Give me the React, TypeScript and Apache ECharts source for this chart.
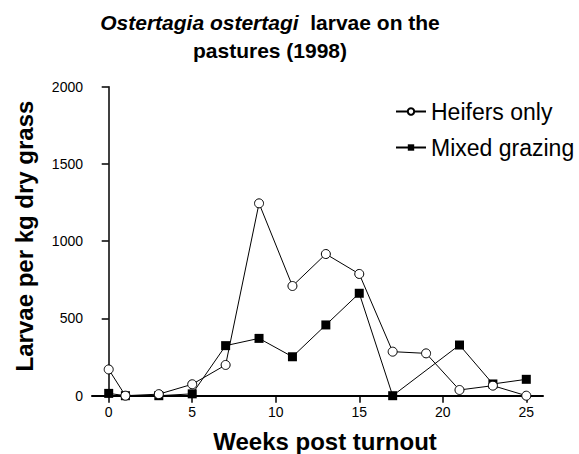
import React, { useEffect, useRef } from "react";
import * as echarts from "echarts";

const FONT = "'Liberation Sans', Arial, Helvetica, sans-serif";

const heiferWeeks = [0, 1, 3, 5, 7, 9, 11, 13, 15, 17, 19, 21, 23, 25];
const heiferValues = [170, 0, 10, 74, 199, 1245, 710, 917, 788, 285, 274, 37, 65, 0];

const mixedWeeks = [0, 1, 3, 5, 7, 9, 11, 13, 15, 17, 21, 23, 25];
const mixedValues = [15, 0, 0, 12, 324, 371, 252, 458, 663, 0, 328, 76, 106];

const xTicks = [0, 5, 10, 15, 20, 25];
const yTicks = [0, 500, 1000, 1500, 2000];

const seriesNames = ["Heifers only", "Mixed grazing"];
const titleItalic = "Ostertagia ostertagi";
const titleRest = "  larvae on the";
const titleLine2 = "pastures (1998)";
const xName = "Weeks post turnout";
const yName = "Larvae per kg dry grass";

export default function App() {
  const ref = useRef<HTMLDivElement>(null);

  useEffect(() => {
    if (!ref.current) return;
    const chart = echarts.init(ref.current, null, { renderer: "svg" });
    const heiferData = heiferWeeks.map((w, i) => [w, heiferValues[i]]);
    const mixedData = mixedWeeks.map((w, i) => [w, mixedValues[i]]);

    chart.setOption({
      animation: false,
      backgroundColor: "#ffffff",
      grid: { left: 92, right: 36, top: 86.7, bottom: 58.3 },
      xAxis: {
        type: "value",
        min: -1,
        max: 26,
        splitLine: { show: false },
        axisLine: { show: true, onZero: false, lineStyle: { color: "#000", width: 2 } },
        axisTick: { show: true, length: 7, customValues: xTicks, lineStyle: { color: "#000", width: 1.5 } },
        axisLabel: {
          customValues: xTicks,
          margin: 9,
          color: "#000",
          fontSize: 14,
          fontFamily: FONT,
          formatter: (v: number) => String(v),
        },
      },
      yAxis: {
        type: "value",
        min: yTicks[0],
        max: yTicks[yTicks.length - 1],
        interval: 500,
        splitLine: { show: false },
        axisLine: { show: true, lineStyle: { color: "#000", width: 1.5 } },
        axisTick: { show: true, length: 7, lineStyle: { color: "#000", width: 1.5 } },
        axisLabel: {
          margin: 9,
          color: "#000",
          fontSize: 14,
          fontFamily: FONT,
          formatter: (v: number) => String(v),
        },
      },
      legend: {
        orient: "vertical",
        left: 395,
        top: 100,
        padding: 0,
        itemWidth: 30,
        itemHeight: 8,
        itemGap: 13,
        itemTextGap: 0.1,
        data: seriesNames,
        textStyle: { color: "#000", fontSize: 23, fontFamily: FONT },
      },
      series: [
        {
          name: seriesNames[1],
          type: "line",
          data: mixedData,
          symbol: "rect",
          symbolSize: 9,
          z: 2,
          clip: false,
          lineStyle: { color: "#000", width: 1 },
          itemStyle: { color: "#000", borderColor: "#000", borderWidth: 0 },
        },
        {
          name: seriesNames[0],
          type: "line",
          data: heiferData,
          symbol: "circle",
          symbolSize: 9,
          z: 3,
          clip: false,
          lineStyle: { color: "#000", width: 1 },
          itemStyle: { color: "#fff", borderColor: "#000", borderWidth: 1 },
        },
      ],
      graphic: [
        {
          type: "text",
          x: 270,
          y: 22,
          style: {
            text: `{i|${titleItalic}}{n|${titleRest}}`,
            rich: {
              i: { fontStyle: "italic", fontWeight: "bold", fontSize: 21, fontFamily: FONT, fill: "#000" },
              n: { fontWeight: "bold", fontSize: 21, fontFamily: FONT, fill: "#000" },
            },
            fontSize: 21,
            fontWeight: "bold",
            fontFamily: FONT,
            fill: "#000",
            align: "center",
            verticalAlign: "middle",
          },
        },
        {
          type: "text",
          x: 270,
          y: 50,
          style: {
            text: titleLine2,
            fontSize: 21,
            fontWeight: "bold",
            fontFamily: FONT,
            fill: "#000",
            align: "center",
            verticalAlign: "middle",
          },
        },
        {
          type: "text",
          x: 24,
          y: 236,
          rotation: Math.PI / 2,
          style: {
            text: yName,
            fontSize: 24,
            fontWeight: "bold",
            fontFamily: FONT,
            fill: "#000",
            align: "center",
            verticalAlign: "middle",
          },
        },
        {
          type: "text",
          x: 325,
          y: 441,
          style: {
            text: xName,
            fontSize: 24,
            fontWeight: "bold",
            fontFamily: FONT,
            fill: "#000",
            align: "center",
            verticalAlign: "middle",
          },
        },
      ],
    });

    return () => chart.dispose();
  }, []);

  return (
    <div
      ref={ref}
      style={{ position: "fixed", left: 0, top: 0, width: 579, height: 454 }}
    />
  );
}
